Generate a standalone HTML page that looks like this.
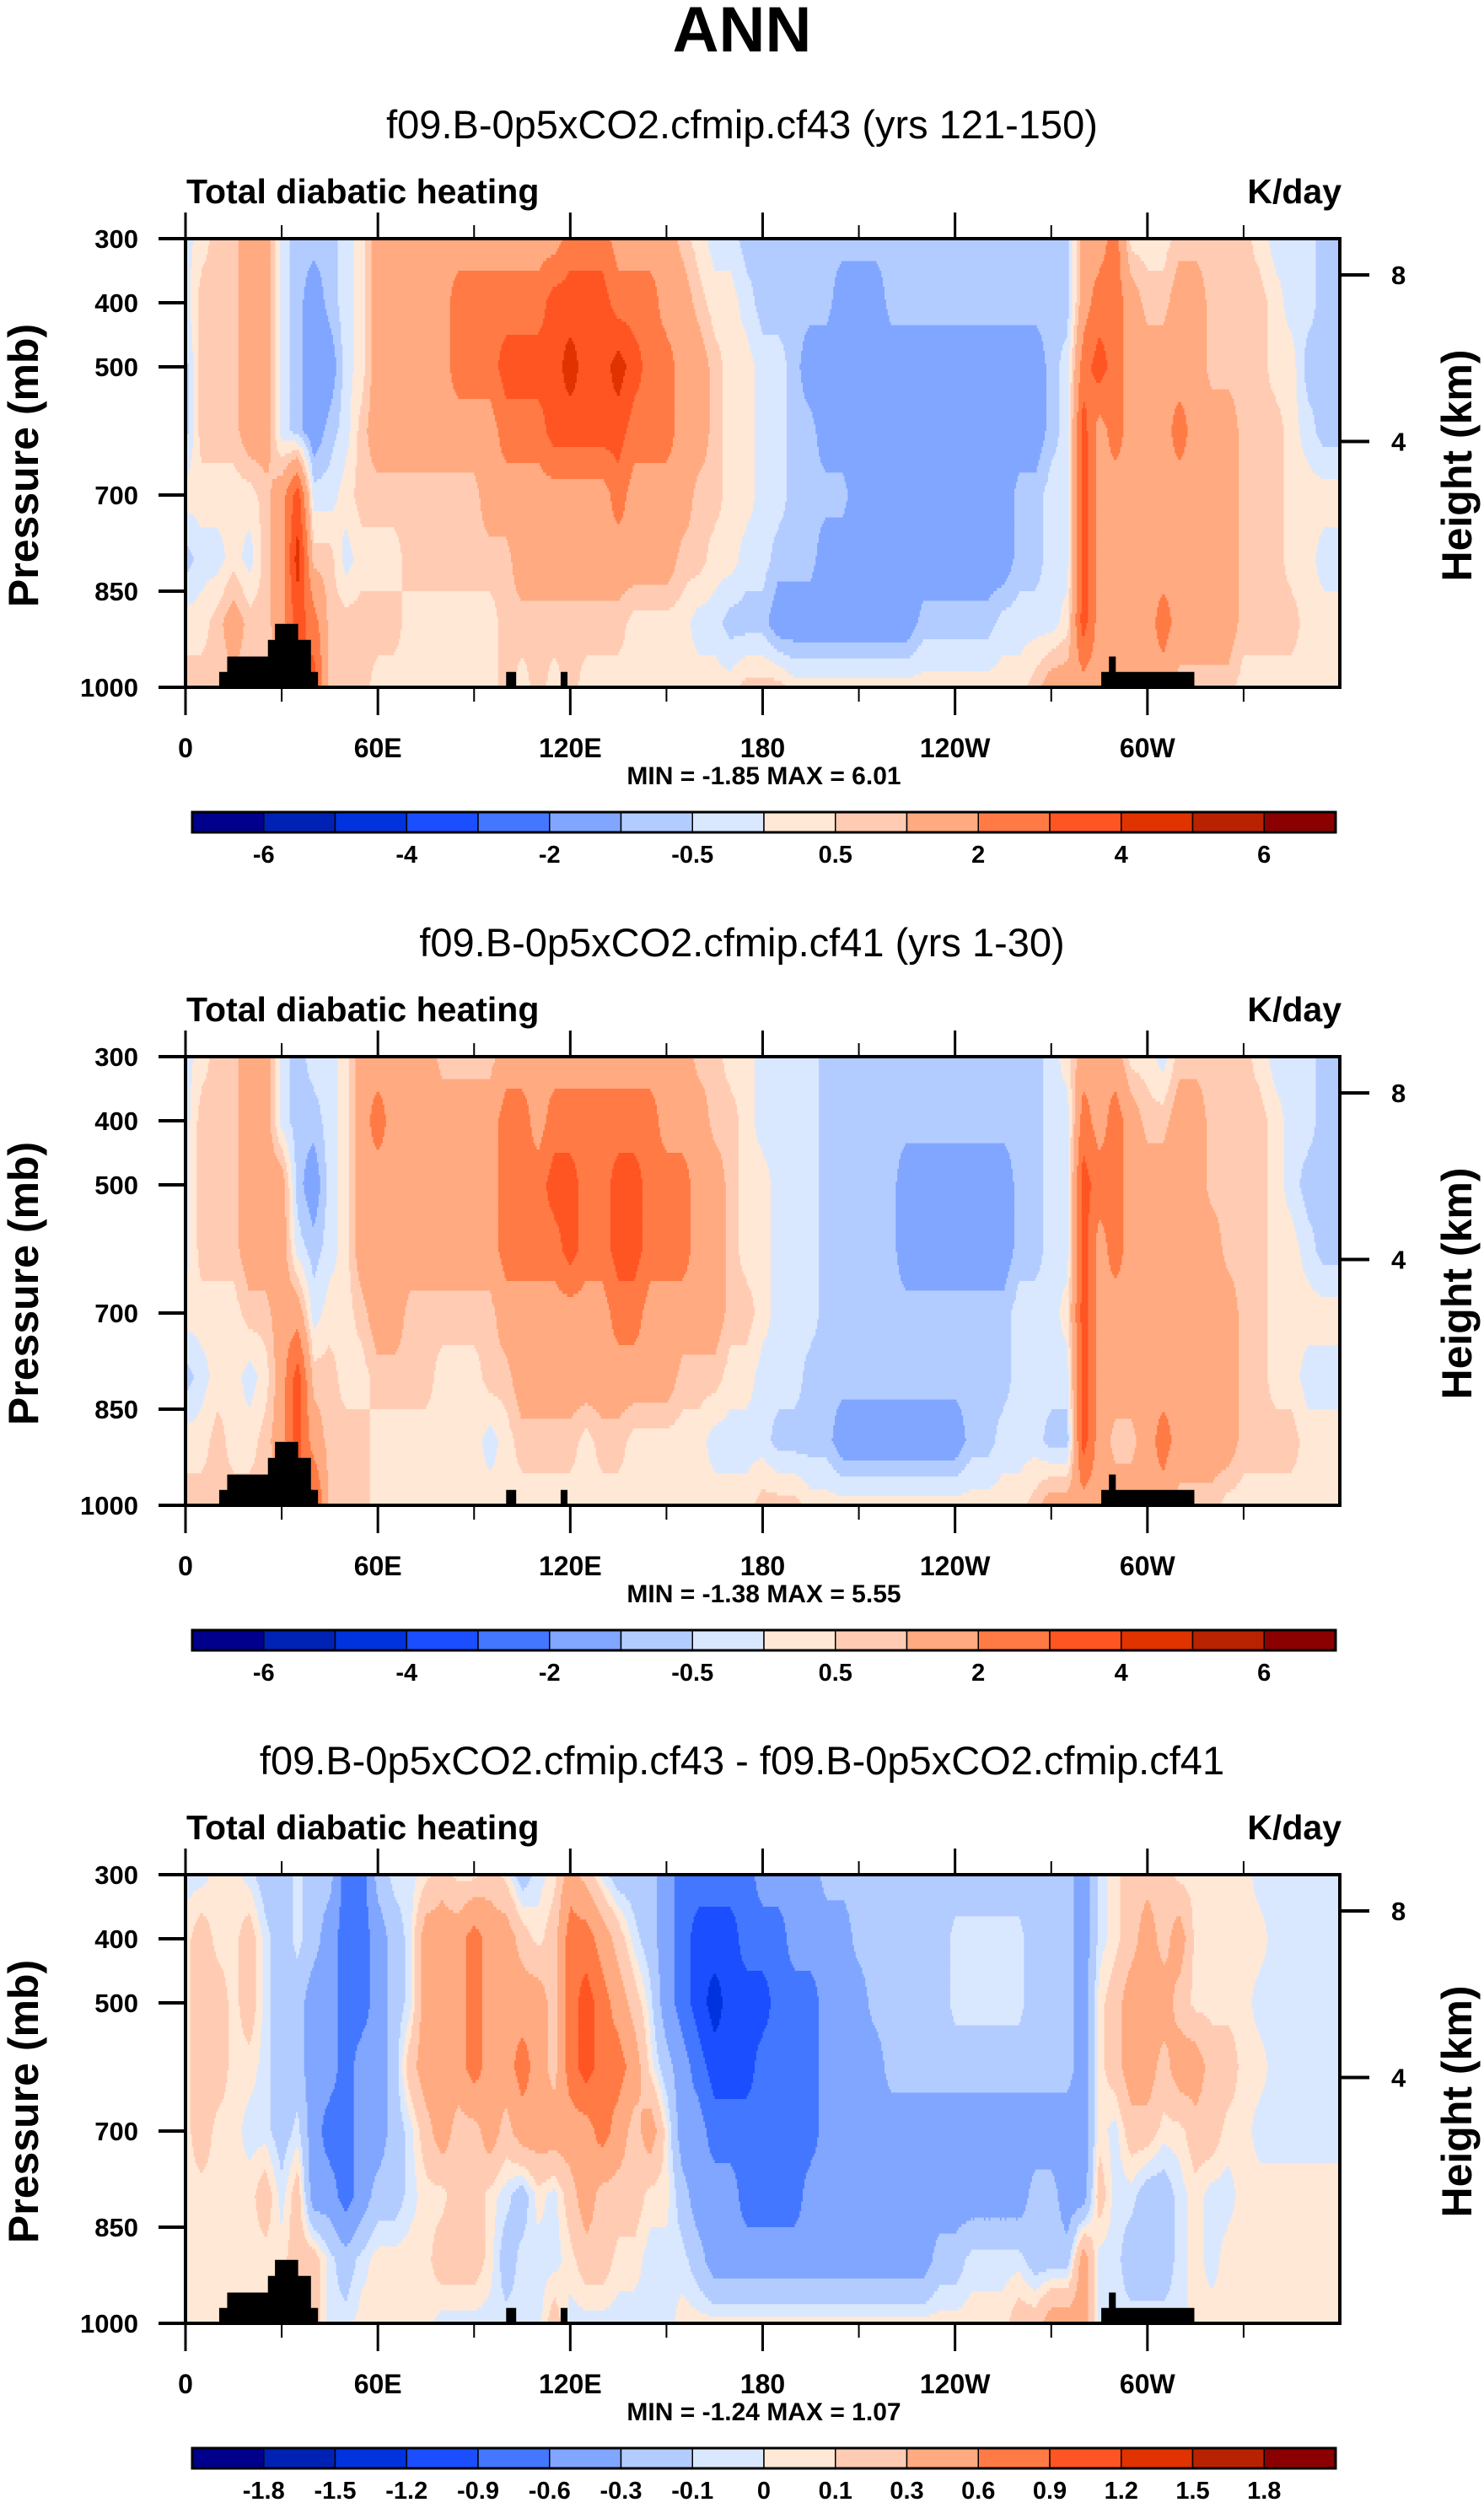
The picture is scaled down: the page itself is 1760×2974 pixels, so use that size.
<!DOCTYPE html>
<html><head><meta charset="utf-8"><title>ANN Total diabatic heating</title>
<style>
html,body{margin:0;padding:0;background:#fff;}
svg{display:block;font-family:"Liberation Sans",Arial,sans-serif;}
</style></head>
<body>
<svg id="fig" width="1760" height="2974" viewBox="0 0 1760 2974" xmlns="http://www.w3.org/2000/svg">
<rect x="0" y="0" width="1760" height="2974" fill="#fff"/>
<text x="880" y="61" text-anchor="middle" font-size="76" font-weight="bold">ANN</text>
</svg>
<script>
// ---------- data ----------
const presRows = [300,400,500,600,700,800,900,1000];
const lonStep = 5;
const panelTitles = ["f09.B-0p5xCO2.cfmip.cf43 (yrs 121-150)","f09.B-0p5xCO2.cfmip.cf41 (yrs 1-30)","f09.B-0p5xCO2.cfmip.cf43 - f09.B-0p5xCO2.cfmip.cf41"];
const panelMin = ["-1.85","-1.38","-1.24"];
const panelMax = ["6.01","5.55","1.07"];
const levelsAbs = [-6,-5,-4,-3,-2,-1,-0.5,0,0.5,1,2,3,4,5,6];
const labelsAbs = ["-6","","-4","","-2","","-0.5","","0.5","","2","","4","","6"];
const levelsDiff = [-1.8,-1.5,-1.2,-0.9,-0.6,-0.3,-0.1,0,0.1,0.3,0.6,0.9,1.2,1.5,1.8];
const labelsDiff = ["-1.8","-1.5","-1.2","-0.9","-0.6","-0.3","-0.1","0","0.1","0.3","0.6","0.9","1.2","1.5","1.8"];
const colors = ["#00008c","#0022b4","#0033dd","#1a4eff","#4477ff","#80a6ff","#b3ccff","#d9e8ff","#ffe8d6","#ffccb3","#ffaa80","#ff7a45","#ff5522","#e03300","#b82200","#8b0000"];
const xTickLons = [0,60,120,180,240,300];
const xTickLabels = ["0","60E","120E","180","120W","60W"];
const xMinorLons = [30,90,150,210,270,330];
const yTickPres = [300,400,500,700,850,1000];
const heightLabels = ["8","4"];
const heightPres = [356.5,616.4];
const topoLonA = [10.5,13,25.7,27.9,35,39,100,117,285.6,288,290];
const topoLonB = [13,25.7,27.9,35,39,41.2,103,119,288,290,314.5];
const topoTopP = [976,952,926,901,926,976,976,976,976,952,976];

const heat1 = [
[-0.25,0.25,0.75,0.75,1.5,1.5,-0.25,-0.75,-0.75,-0.75,-0.25,0.25,1.5,1.5,1.5,1.5,1.5,1.5,1.5,1.5,1.5,1.5,1.5,1.5,2.5,2.5,2.5,1.5,1.5,1.5,1.5,0.75,0.25,-0.25,-0.25,-0.75,-0.75,-0.75,-0.75,-0.75,-0.75,-0.75,-0.75,-0.75,-0.75,-0.75,-0.75,-0.75,-0.75,-0.75,-0.75,-0.75,-0.75,-0.75,-0.75,-0.75,1.5,1.5,2.5,0.25,0.25,0.25,0.75,0.75,0.75,0.75,0.75,0.25,-0.25,-0.25,-0.25,-0.75,-0.75],
[-0.25,0.75,0.75,0.75,1.5,1.5,-0.25,-0.75,-1.5,-0.75,-0.25,0.25,1.5,1.5,1.5,1.5,1.5,2.5,2.5,2.5,2.5,2.5,2.5,3.5,3.5,3.5,3.5,2.5,2.5,2.5,1.5,1.5,0.75,0.25,0.25,-0.25,-0.75,-0.75,-0.75,-0.75,-0.75,-1.5,-1.5,-1.5,-0.75,-0.75,-0.75,-0.75,-0.75,-0.75,-0.75,-0.75,-0.75,-0.75,-0.75,-0.75,1.5,2.5,2.5,1.5,0.75,0.75,1.5,1.5,0.75,0.75,0.75,0.75,0.25,-0.25,-0.25,-0.75,-0.75],
[-0.75,0.75,0.75,0.75,1.5,1.5,-0.25,-0.75,-1.5,-1.5,-0.25,0.25,1.5,1.5,1.5,1.5,1.5,2.5,2.5,2.5,3.5,3.5,3.5,3.5,4.5,3.5,3.5,4.5,3.5,2.5,2.5,1.5,1.5,0.75,0.25,0.25,-0.25,-0.25,-0.75,-1.5,-1.5,-1.5,-1.5,-1.5,-1.5,-1.5,-1.5,-1.5,-1.5,-1.5,-1.5,-1.5,-1.5,-1.5,-0.75,-0.25,2.5,3.5,2.5,1.5,1.5,1.5,1.5,1.5,0.75,0.75,0.75,0.75,0.25,0.25,-0.75,-0.75,-0.75],
[-0.75,0.75,0.75,0.75,1.5,1.5,-0.25,-0.75,-1.5,-0.75,-0.25,0.75,1.5,1.5,1.5,1.5,1.5,1.5,1.5,1.5,2.5,2.5,2.5,3.5,3.5,3.5,3.5,3.5,2.5,2.5,2.5,1.5,1.5,0.75,0.25,0.25,-0.25,-0.25,-0.75,-0.75,-1.5,-1.5,-1.5,-1.5,-1.5,-1.5,-1.5,-1.5,-1.5,-1.5,-1.5,-1.5,-1.5,-1.5,-0.75,-0.25,3.5,1.5,2.5,1.5,1.5,1.5,2.5,1.5,1.5,1.5,0.75,0.75,0.75,0.25,-0.25,-0.75,-0.75],
[0.25,0.25,0.25,0.25,0.25,0.75,1.5,3.5,-0.25,-0.25,0.25,0.75,0.75,0.75,0.75,0.75,0.75,0.75,0.75,1.5,1.5,1.5,1.5,1.5,1.5,1.5,1.5,2.5,1.5,1.5,1.5,1.5,0.75,0.75,0.25,0.25,-0.25,-0.25,-0.75,-0.75,-0.75,-0.75,-1.5,-1.5,-1.5,-1.5,-1.5,-1.5,-1.5,-1.5,-1.5,-1.5,-0.75,-0.75,-0.25,-0.25,3.5,1.5,1.5,1.5,1.5,1.5,1.5,1.5,1.5,1.5,0.75,0.75,0.75,0.25,0.25,0.25,0.25],
[-0.75,-0.25,-0.25,0.25,-0.25,0.75,1.5,4.5,0.75,0.75,-0.25,0.25,0.25,0.25,0.75,0.75,0.75,0.75,0.75,0.75,0.75,1.5,1.5,1.5,1.5,1.5,1.5,1.5,1.5,1.5,1.5,0.75,0.75,0.25,0.25,-0.25,-0.25,-0.75,-0.75,-0.75,-1.5,-1.5,-1.5,-1.5,-1.5,-1.5,-1.5,-1.5,-1.5,-1.5,-1.5,-1.5,-0.75,-0.75,-0.25,-0.25,3.5,1.5,1.5,1.5,1.5,1.5,1.5,1.5,1.5,1.5,0.75,0.75,0.75,0.25,0.25,-0.25,-0.25],
[0.25,0.25,0.75,1.5,0.75,0.75,1.5,3.5,2.5,0.75,0.75,0.75,0.75,0.75,0.25,0.25,0.25,0.25,0.25,0.25,0.75,0.75,0.75,0.75,0.75,0.75,0.75,0.75,0.25,0.25,0.25,0.25,-0.25,-0.25,-0.75,-0.75,-0.75,-1.5,-1.5,-1.5,-1.5,-1.5,-1.5,-1.5,-1.5,-1.5,-0.75,-0.75,-0.75,-0.75,-0.75,-0.25,-0.25,-0.25,-0.25,0.25,3.5,1.5,1.5,1.5,1.5,2.5,1.5,1.5,1.5,1.5,0.75,0.75,0.75,0.75,0.25,0.25,0.25],
[0.75,0.75,0.75,0.75,0.75,0.75,0.75,2.5,3.5,0.75,0.75,0.75,0.25,0.25,0.25,0.25,0.25,0.25,0.25,0.25,0.75,0.25,0.75,0.25,0.75,0.25,0.25,0.25,0.25,0.25,0.25,0.25,0.25,0.25,0.25,0.75,0.75,0.75,0.25,0.25,0.25,0.25,0.25,0.25,0.25,0.25,0.25,0.25,0.25,0.25,0.25,0.25,0.25,0.75,1.5,1.5,1.5,1.5,1.5,1.5,1.5,1.5,0.75,0.75,0.75,0.75,0.25,0.25,0.25,0.25,0.25,0.25,0.25]
];

const heat2 = [
[-0.25,0.25,0.75,0.75,1.5,1.5,-0.25,-0.75,-0.25,-0.25,0.25,1.5,1.5,1.5,1.5,1.5,0.75,0.75,0.75,0.75,1.5,1.5,1.5,1.5,1.5,1.5,1.5,1.5,1.5,1.5,1.5,1.5,0.75,0.75,0.25,0.25,-0.25,-0.25,-0.25,-0.25,-0.75,-0.75,-0.75,-0.75,-0.75,-0.75,-0.75,-0.75,-0.75,-0.75,-0.75,-0.75,-0.75,-0.75,-0.25,0.25,1.5,1.5,1.5,0.25,0.25,-0.25,0.75,0.75,0.75,0.75,0.75,0.25,-0.25,-0.25,-0.25,-0.75,-0.75],
[-0.25,0.75,0.75,0.75,1.5,1.5,-0.25,-0.75,-0.75,-0.25,0.25,1.5,2.5,1.5,1.5,1.5,1.5,1.5,1.5,1.5,2.5,2.5,1.5,2.5,2.5,2.5,2.5,2.5,2.5,2.5,1.5,1.5,1.5,0.75,0.75,0.25,-0.25,-0.25,-0.25,-0.25,-0.75,-0.75,-0.75,-0.75,-0.75,-0.75,-0.75,-0.75,-0.75,-0.75,-0.75,-0.75,-0.75,-0.75,-0.25,-0.25,2.5,1.5,2.5,1.5,0.75,0.75,1.5,1.5,0.75,0.75,0.75,0.75,0.25,-0.25,-0.25,-0.75,-0.75],
[-0.25,0.75,0.75,0.75,1.5,1.5,1.5,-0.75,-1.5,-0.25,0.25,1.5,1.5,1.5,1.5,1.5,1.5,1.5,1.5,1.5,2.5,2.5,2.5,3.5,3.5,2.5,2.5,3.5,3.5,2.5,2.5,2.5,1.5,1.5,0.75,0.25,0.25,-0.25,-0.25,-0.25,-0.75,-0.75,-0.75,-0.75,-0.75,-1.5,-1.5,-1.5,-1.5,-1.5,-1.5,-1.5,-0.75,-0.75,-0.25,-0.25,3.5,2.5,2.5,1.5,1.5,1.5,1.5,1.5,0.75,0.75,0.75,0.75,0.25,-0.25,-0.75,-0.75,-0.75],
[-0.25,0.75,0.75,0.75,1.5,1.5,1.5,-0.25,-0.75,-0.25,0.25,1.5,1.5,1.5,1.5,1.5,1.5,1.5,1.5,1.5,2.5,2.5,2.5,2.5,3.5,2.5,2.5,3.5,3.5,2.5,2.5,2.5,1.5,1.5,0.75,0.25,0.25,-0.25,-0.25,-0.25,-0.75,-0.75,-0.75,-0.75,-0.75,-1.5,-1.5,-1.5,-1.5,-1.5,-1.5,-1.5,-0.75,-0.75,-0.25,-0.25,3.5,1.5,2.5,1.5,1.5,1.5,1.5,1.5,1.5,0.75,0.75,0.75,0.25,0.25,-0.25,-0.75,-0.75],
[0.25,0.25,0.25,0.25,0.75,0.75,1.5,1.5,-0.25,0.25,0.25,0.75,1.5,1.5,0.75,0.75,0.75,0.75,0.75,0.75,1.5,1.5,1.5,1.5,1.5,1.5,1.5,2.5,2.5,1.5,1.5,1.5,1.5,1.5,0.75,0.75,0.25,-0.25,-0.25,-0.25,-0.75,-0.75,-0.75,-0.75,-0.75,-0.75,-0.75,-0.75,-0.75,-0.75,-0.75,-0.75,-0.25,-0.25,-0.25,0.25,3.5,1.5,1.5,1.5,1.5,1.5,1.5,1.5,1.5,1.5,0.75,0.75,0.25,0.25,0.25,0.25,0.25],
[-0.75,-0.25,0.25,0.25,-0.25,0.25,1.5,3.5,0.75,0.75,0.25,0.25,0.75,0.75,0.75,0.75,0.25,0.25,0.25,0.75,0.75,1.5,1.5,1.5,1.5,1.5,1.5,1.5,1.5,1.5,1.5,0.75,0.75,0.75,0.25,0.25,-0.25,-0.25,-0.25,-0.75,-0.75,-0.75,-0.75,-0.75,-0.75,-0.75,-0.75,-0.75,-0.75,-0.75,-0.75,-0.75,-0.25,-0.25,-0.25,-0.25,3.5,1.5,1.5,1.5,1.5,1.5,1.5,1.5,1.5,1.5,0.75,0.75,0.25,0.25,-0.25,-0.25,-0.25],
[0.25,0.25,0.75,0.25,0.25,0.75,1.5,3.5,1.5,0.75,0.75,0.75,0.25,0.25,0.25,0.25,0.25,0.25,0.25,-0.25,0.25,0.75,0.75,0.75,0.75,0.25,0.75,0.75,0.25,0.25,0.25,0.25,0.25,-0.25,-0.25,-0.25,-0.25,-0.75,-0.75,-0.75,-0.75,-1.5,-1.5,-1.5,-1.5,-1.5,-1.5,-1.5,-1.5,-0.75,-0.75,-0.25,-0.25,-0.25,-0.75,-0.75,3.5,1.5,0.75,0.75,1.5,2.5,1.5,1.5,1.5,1.5,0.75,0.75,0.75,0.75,0.25,0.25,0.25],
[0.75,0.75,0.75,0.75,0.75,0.75,0.75,2.5,3.5,0.75,0.75,0.75,0.25,0.25,0.25,0.25,0.25,0.25,0.25,0.25,0.25,0.25,0.25,0.25,0.25,0.25,0.25,0.25,0.25,0.25,0.25,0.25,0.25,0.25,0.25,0.25,0.75,0.75,0.75,0.25,0.25,0.25,0.25,0.25,0.25,0.25,0.25,0.25,0.25,0.25,0.25,0.25,0.25,0.75,1.5,1.5,1.5,1.5,1.5,1.5,1.5,1.5,0.75,0.75,0.75,0.25,0.25,0.25,0.25,0.25,0.25,0.25,0.25]
];

const heatDiff = [
[-0.05,-0.05,0.05,0.05,-0.05,-0.2,-0.2,-0.05,-0.2,-0.2,-0.75,-0.75,-0.2,-0.05,-0.05,0.05,0.2,0.05,0.05,0.2,0.05,-0.2,-0.05,0.05,0.45,0.2,-0.05,-0.2,-0.2,-0.2,-0.45,-0.75,-0.75,-0.75,-0.75,-0.75,-0.45,-0.45,-0.45,-0.45,-0.2,-0.2,-0.2,-0.2,-0.2,-0.2,-0.2,-0.2,-0.2,-0.2,-0.2,-0.2,-0.2,-0.2,-0.2,-0.2,-0.45,-0.05,0.05,0.2,0.2,0.2,0.05,0.05,0.05,0.05,0.05,-0.05,-0.05,-0.05,-0.05,-0.05,-0.05],
[0.05,0.2,0.05,0.05,0.2,-0.05,-0.2,-0.05,-0.2,-0.45,-0.75,-0.75,-0.45,-0.2,-0.05,0.45,0.45,0.45,0.75,0.45,0.45,0.2,0.05,0.2,0.75,0.75,0.45,0.2,-0.05,-0.2,-0.45,-0.75,-1.05,-1.05,-1.05,-0.75,-0.75,-0.75,-0.45,-0.45,-0.45,-0.45,-0.2,-0.2,-0.2,-0.2,-0.2,-0.2,-0.05,-0.05,-0.05,-0.05,-0.05,-0.2,-0.2,-0.2,-0.45,-0.05,0.05,0.2,0.45,0.2,0.45,0.05,0.05,0.05,0.05,0.05,-0.05,-0.05,-0.05,-0.05,-0.05],
[0.05,0.2,0.2,0.05,0.2,-0.05,-0.2,-0.2,-0.45,-0.45,-0.75,-0.75,-0.45,-0.2,-0.05,0.45,0.45,0.45,0.75,0.45,0.45,0.45,0.45,0.2,0.75,1.05,0.75,0.45,0.2,-0.05,-0.45,-0.75,-1.05,-1.35,-1.05,-1.05,-1.05,-0.75,-0.75,-0.75,-0.45,-0.45,-0.45,-0.2,-0.2,-0.2,-0.2,-0.2,-0.05,-0.05,-0.05,-0.05,-0.05,-0.2,-0.2,-0.2,-0.45,0.05,0.2,0.45,0.45,0.45,0.2,0.05,0.05,0.05,0.05,-0.05,-0.05,-0.05,-0.05,-0.05,-0.05],
[0.05,0.2,0.2,0.05,0.05,-0.05,-0.2,-0.2,-0.45,-0.45,-0.75,-0.45,-0.45,-0.2,0.2,0.45,0.45,0.45,0.75,0.45,0.45,0.75,0.45,0.2,0.75,1.05,0.75,0.75,0.45,0.05,-0.2,-0.45,-0.75,-1.05,-1.05,-1.05,-0.75,-0.75,-0.75,-0.75,-0.45,-0.45,-0.45,-0.45,-0.2,-0.2,-0.2,-0.2,-0.2,-0.2,-0.2,-0.2,-0.2,-0.2,-0.2,-0.2,-0.45,0.05,0.2,0.45,0.45,0.2,0.45,0.45,0.2,0.2,0.05,0.05,-0.05,-0.05,-0.05,-0.05,-0.05],
[0.05,0.2,0.05,0.05,-0.05,-0.05,-0.2,-0.05,-0.45,-0.75,-0.75,-0.45,-0.45,-0.2,-0.05,0.2,0.45,0.2,0.2,0.45,0.2,0.45,0.45,0.45,0.45,0.45,0.75,0.45,0.2,0.45,0.05,-0.45,-0.45,-0.75,-0.75,-0.75,-0.75,-0.75,-0.75,-0.75,-0.45,-0.45,-0.45,-0.45,-0.45,-0.45,-0.45,-0.45,-0.45,-0.45,-0.45,-0.45,-0.45,-0.45,-0.45,-0.45,-0.45,0.05,-0.05,0.2,0.2,0.05,0.05,0.2,0.2,0.05,0.05,-0.05,-0.05,-0.05,-0.05,-0.05,-0.05],
[0.05,0.05,0.05,0.05,0.05,0.2,-0.05,0.2,-0.45,-0.45,-0.75,-0.45,-0.2,-0.2,-0.05,0.05,0.05,0.2,0.2,0.05,-0.05,-0.2,0.05,-0.05,0.2,0.45,0.2,0.2,0.2,0.05,0.05,-0.2,-0.45,-0.45,-0.45,-0.75,-0.75,-0.75,-0.75,-0.45,-0.45,-0.45,-0.45,-0.45,-0.45,-0.45,-0.45,-0.45,-0.45,-0.45,-0.45,-0.45,-0.45,-0.2,-0.2,-0.45,-0.45,0.2,-0.05,-0.05,-0.2,-0.2,-0.05,0.05,-0.05,-0.05,0.05,0.05,0.05,0.05,0.05,0.05,0.05],
[0.05,0.05,0.05,0.05,0.05,0.05,0.05,0.2,0.2,-0.05,-0.2,-0.05,0.05,0.05,0.05,0.05,0.2,0.2,0.2,0.05,-0.2,-0.05,-0.05,-0.05,0.05,0.2,0.2,0.05,0.05,-0.05,-0.05,-0.05,-0.2,-0.45,-0.45,-0.45,-0.45,-0.45,-0.45,-0.45,-0.45,-0.45,-0.45,-0.45,-0.45,-0.45,-0.45,-0.2,-0.2,-0.05,-0.05,-0.05,-0.05,-0.2,-0.2,-0.2,0.45,-0.05,-0.05,-0.2,-0.2,-0.2,-0.05,0.05,-0.05,0.05,0.05,0.05,0.05,0.05,0.05,0.05,0.05],
[0.05,0.05,0.05,0.05,0.05,0.05,0.05,0.05,0.2,-0.05,-0.05,0.05,0.05,0.05,0.05,0.05,-0.05,-0.05,-0.05,-0.05,-0.05,-0.05,-0.05,0.2,-0.05,-0.05,-0.05,-0.05,-0.05,-0.05,-0.05,0.05,0.05,0.05,0.05,0.05,0.05,0.05,0.05,0.05,0.05,0.05,0.05,0.05,0.05,0.05,0.05,0.05,0.05,0.05,0.05,0.05,0.2,0.2,0.45,0.45,0.45,-0.05,-0.05,-0.05,-0.05,-0.05,-0.05,0.05,0.05,0.05,0.05,0.05,0.05,0.05,0.05,0.05,0.05]
];

// ---------- layout ----------
const SVGNS = "http://www.w3.org/2000/svg";
const svg = document.getElementById("fig");
const PLOT_L = 220, PLOT_R = 1589, PLOT_T = 283, PLOT_B = 815, PANEL_DY = 970;
function xOf(lon){ return PLOT_L + lon/360*(PLOT_R-PLOT_L); }
function yOf(p, off){ return off + PLOT_T + (p-300)/700*(PLOT_B-PLOT_T); }
function mk(tag, attrs, parent){
  const e = document.createElementNS(SVGNS, tag);
  for (const k in attrs) e.setAttribute(k, attrs[k]);
  (parent||svg).appendChild(e);
  return e;
}
function txt(str, attrs, parent){ const t = mk("text", attrs, parent); t.textContent = str; return t; }
function levelIndex(v, levels){ let i=0; while(i<levels.length && v>=levels[i]) i++; return i; }
function sample(grid, lon, p){
  const ncol = grid[0].length;
  let fx = lon/lonStep; let ix = Math.min(Math.floor(fx), ncol-2); let tx = fx-ix;
  let fy = (p-presRows[0])/(presRows[1]-presRows[0]); let iy = Math.min(Math.floor(fy), presRows.length-2); let ty = fy-iy;
  const g = (r,c)=>{ const row=grid[r]; return row[Math.min(c,row.length-1)]; };
  const a = g(iy,ix)*(1-tx)+g(iy,ix+1)*tx;
  const b = g(iy+1,ix)*(1-tx)+g(iy+1,ix+1)*tx;
  return a*(1-ty)+b*ty;
}

function drawPanel(i, grid, levels, labels){
  const off = i*PANEL_DY;
  const g = mk("g", {});
  
  
  const sub = txt(panelTitles[i], {x:880, y:164+off, "text-anchor":"middle", "font-size":47}, g);
  
  
  const lt = txt("Total diabatic heating", {x:221, y:241+off, "font-size":41, "font-weight":"bold"}, g);
  
  
  const rt = txt("K/day", {x:1591, y:241+off, "text-anchor":"end", "font-size":41, "font-weight":"bold"}, g);
  
  

  const cells = mk("g", {}, g);
  
  
  const dP = 5, dL = 0.5;
  const nRows = Math.round(700/dP), nCols = Math.round(360/dL);
  for (let r=0; r<nRows; r++){
    const pc = 300 + (r+0.5)*dP;
    const y0 = yOf(300 + r*dP, off), y1 = yOf(300+(r+1)*dP, off);
    let runStart = 0, runIdx = -1;
    for (let c=0; c<=nCols; c++){
      let idx = -2;
      if (c<nCols){ idx = levelIndex(sample(grid, (c+0.5)*dL, pc), levels); }
      if (idx !== runIdx){
        if (runIdx >= 0){
          const x0 = xOf(runStart*dL), x1 = xOf(c*dL);
          const cell = mk("rect", {x:x0.toFixed(1), y:y0.toFixed(1), width:(x1-x0+0.6).toFixed(1), height:(y1-y0+0.6).toFixed(1), fill:colors[runIdx]}, cells);
          
          
        }
        runStart = c; runIdx = idx;
      }
    }
  }
  for (let k=0; k<topoLonA.length; k++){
    const x0 = xOf(topoLonA[k]), x1 = xOf(topoLonB[k]), y0 = yOf(topoTopP[k], off);
    const t = mk("rect", {x:x0, y:y0, width:x1-x0+0.5, height:yOf(1000,off)-y0, fill:"#000"}, g);
    
    
  }
  const fr = mk("rect", {x:PLOT_L, y:yOf(300,off), width:PLOT_R-PLOT_L, height:yOf(1000,off)-yOf(300,off), fill:"none", stroke:"#000", "stroke-width":4}, g);
  
  
  for (let k=0; k<xTickLons.length; k++){
    const x = xOf(xTickLons[k]);
    mk("line", {x1:x, x2:x, y1:off+252, y2:off+PLOT_T, stroke:"#000", "stroke-width":3}, g);
    mk("line", {x1:x, x2:x, y1:off+PLOT_B, y2:off+848, stroke:"#000", "stroke-width":3}, g);
    const l = txt(xTickLabels[k], {x:x, y:off+898, "text-anchor":"middle", "font-size":32, "font-weight":"bold"}, g);
    
    
  }
  for (let k=0; k<xMinorLons.length; k++){
    const x = xOf(xMinorLons[k]);
    mk("line", {x1:x, x2:x, y1:off+267, y2:off+PLOT_T, stroke:"#000", "stroke-width":2}, g);
    mk("line", {x1:x, x2:x, y1:off+PLOT_B, y2:off+832, stroke:"#000", "stroke-width":2}, g);
  }
  for (let k=0; k<yTickPres.length; k++){
    const y = yOf(yTickPres[k], off);
    mk("line", {x1:188, x2:PLOT_L, y1:y, y2:y, stroke:"#000", "stroke-width":4}, g);
    const l = txt(String(yTickPres[k]), {x:164, y:y+11, "text-anchor":"end", "font-size":31, "font-weight":"bold"}, g);
    
    
  }
  for (let k=0; k<heightPres.length; k++){
    const y = yOf(heightPres[k], off);
    mk("line", {x1:PLOT_R, x2:1624, y1:y, y2:y, stroke:"#000", "stroke-width":4}, g);
    const l = txt(heightLabels[k], {x:1650, y:y+11, "font-size":31, "font-weight":"bold"}, g);
    
    
  }
  const ya = txt("Pressure (mb)", {x:0, y:0, "text-anchor":"middle", "font-size":50, "font-weight":"bold", transform:"translate(45,"+(552+off)+") rotate(-90)"}, g);
  
  
  const ha = txt("Height (km)", {x:0, y:0, "text-anchor":"middle", "font-size":50, "font-weight":"bold", transform:"translate(1745,"+(552+off)+") rotate(-90)"}, g);
  
  
  const mm = txt("MIN =  "+panelMin[i]+"   MAX =   "+panelMax[i], {x:906, y:off+930, "text-anchor":"middle", "font-size":30, "font-weight":"bold"}, g);
  
  

  const cb = mk("g", {}, g);
  
  
  const cbL = 228, cbR = 1584, cbT = off+963, cbH = 24;
  const bw = (cbR-cbL)/colors.length;
  for (let k=0; k<colors.length; k++){
    const b = mk("rect", {x:cbL+k*bw, y:cbT, width:bw, height:cbH, fill:colors[k], stroke:"#000", "stroke-width":1.5}, cb);
    
    
  }
  mk("rect", {x:cbL, y:cbT, width:cbR-cbL, height:cbH, fill:"none", stroke:"#000", "stroke-width":3}, cb);
  for (let k=0; k<labels.length; k++){
    if (!labels[k]) continue;
    const l = txt(labels[k], {x:cbL+(k+1)*bw, y:off+1023, "text-anchor":"middle", "font-size":29, "font-weight":"bold"}, cb);
    
    
  }
}
drawPanel(0, heat1, levelsAbs, labelsAbs);
drawPanel(1, heat2, levelsAbs, labelsAbs);
drawPanel(2, heatDiff, levelsDiff, labelsDiff);
</script>
</body></html>
